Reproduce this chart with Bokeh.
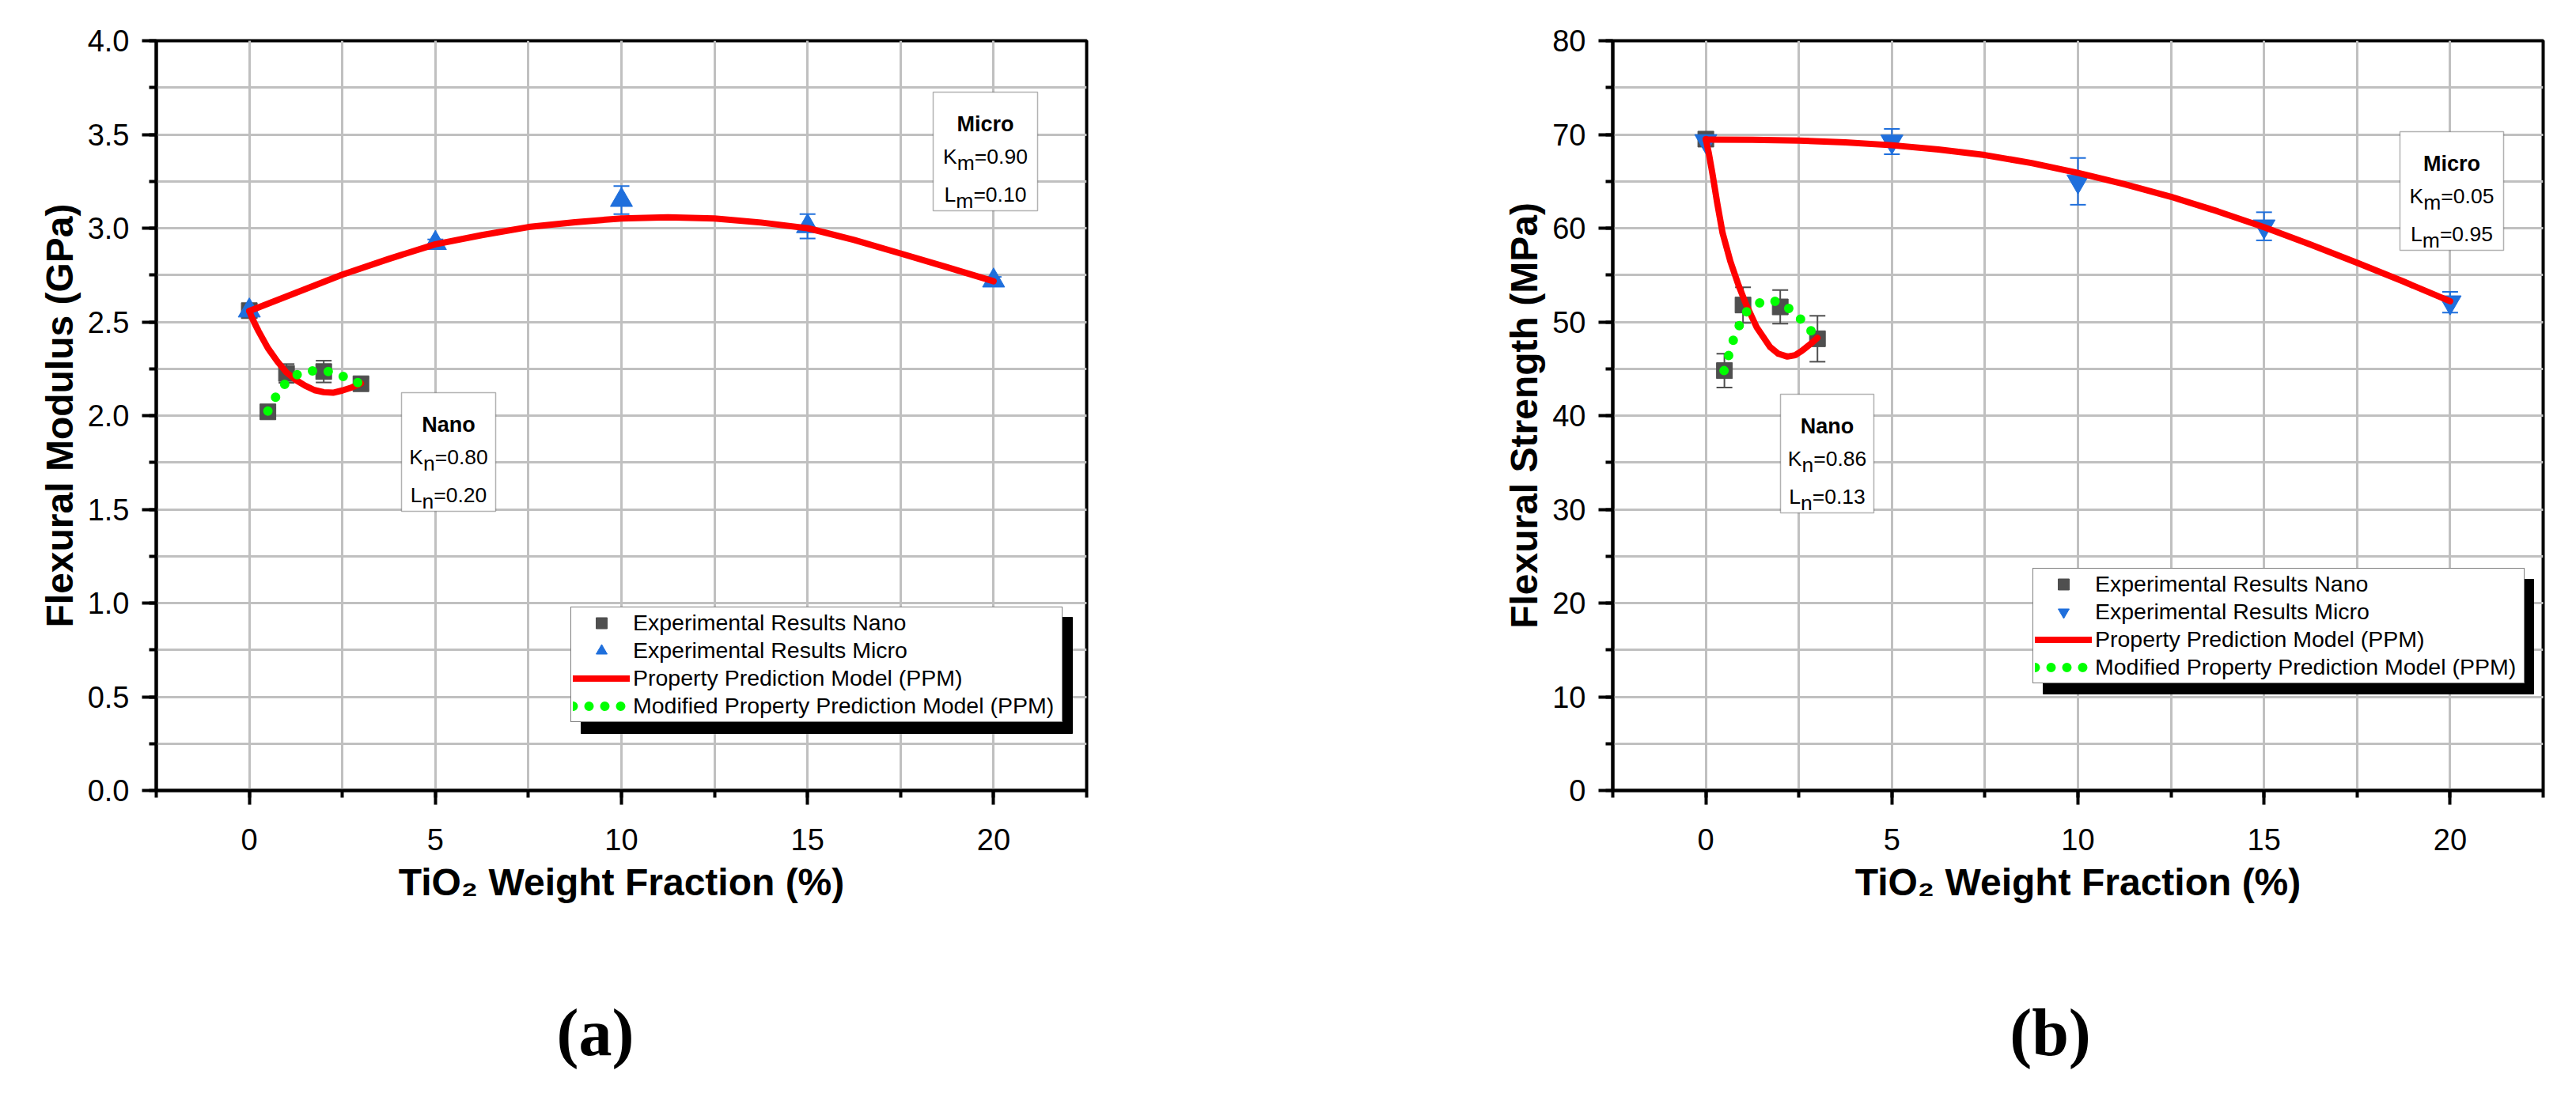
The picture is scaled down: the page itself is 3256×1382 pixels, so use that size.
from bokeh.plotting import figure
from bokeh.models import (Range1d, SingleIntervalTicker, NumeralTickFormatter, ColumnDataSource,
                          Whisker, TeeHead, Legend, LegendItem, BoxAnnotation, Label)
from bokeh.layouts import row, column
from bokeh.embed import file_html
from bokeh.resources import INLINE

# ---------------- data: (a) flexural modulus (GPa) ----------------
nano_x = [0, 0.5, 1, 2, 3]
micro_x = [0, 5, 10, 15, 20]

mod_nano = [2.56, 2.02, 2.225, 2.235, 2.17]
mod_nano_err = [0.01, 0.02, 0.05, 0.058, 0.03]
mod_micro = [2.56, 2.92, 3.15, 3.01, 2.72]
mod_micro_err = [0.02, 0.02, 0.075, 0.065, 0.02]

ppm_micro_x = [0, 1.25, 2.5, 3.75, 5, 6.25, 7.5, 8.75, 10, 11.25, 12.5, 13.75, 15, 16.25, 17.5, 18.75, 20]
mod_ppm_micro = [2.558, 2.655, 2.752, 2.836, 2.914, 2.963, 3.006, 3.032, 3.052, 3.058, 3.052,
                 3.03, 3.0, 2.937, 2.865, 2.792, 2.717]
mod_ppm_nano_x = [0, 0.1, 0.25, 0.5, 0.75, 1.0, 1.25, 1.5, 1.75, 2.0, 2.25, 2.5, 2.75, 3.0]
mod_ppm_nano = [2.557, 2.51, 2.45, 2.36, 2.29, 2.23, 2.19, 2.16, 2.136, 2.125, 2.122, 2.134, 2.15, 2.172]
mod_mppm_x = [0.5, 0.68, 0.91, 1.30, 1.74, 2.16, 2.58, 2.98]
mod_mppm = [2.024, 2.09, 2.16, 2.22, 2.24, 2.235, 2.205, 2.17]

# ---------------- data: (b) flexural strength (MPa) ----------------
str_nano = [69.5, 44.8, 51.8, 51.6, 48.2]
str_nano_err = [0.5, 1.8, 1.9, 1.8, 2.45]
str_micro = [69.3, 69.25, 65.0, 60.2, 52.1]
str_micro_err = [0.5, 1.35, 2.5, 1.5, 1.1]

str_ppm_micro = [69.45, 69.42, 69.34, 69.15, 68.85, 68.4, 67.8, 66.95, 65.9, 64.7, 63.35,
                 61.8, 60.1, 58.25, 56.3, 54.3, 52.2]
str_ppm_nano_x = [0, 0.08, 0.17, 0.31, 0.45, 0.66, 0.88, 1.09, 1.37, 1.73, 1.95, 2.19, 2.4, 2.58, 2.8, 3.0]
str_ppm_nano = [69.5, 68.0, 66.0, 62.6, 59.5, 56.45, 53.9, 51.8, 49.4, 47.3, 46.6, 46.3, 46.45, 46.9, 47.6, 48.3]
str_mppm_x = [0.49, 0.62, 0.75, 0.92, 1.1, 1.51, 1.92, 2.28, 2.6, 2.9]
str_mppm = [44.8, 46.5, 48.2, 49.8, 51.1, 52.2, 52.2, 51.3, 50.1, 48.7]

# text
legend_labels = ["Experimental Results Nano", "Experimental Results Micro",
                 "Property Prediction Model (PPM)", "Modified Property Prediction Model (PPM)"]
x_title = "TiO\u2082 Weight Fraction (%)"
panel_letters = ["(a)", "(b)"]

GRAY = "#4f4f4f"
BLUE = "#1f6fdc"
RED = "#ff0000"
GREEN = "#00ff00"
GRID = "#c0c0c0"
SANS = "Liberation Sans"

PAGE_W = 3248
MAIN_H = 1230
LETTER_H = 150
FRAME_W, FRAME_H = 1176, 948
FRAME_TOP = 51
X0, X1 = -2.5, 22.5


def build(cfg):
    ymax = cfg["ymax"]
    off = cfg["offset"]            # page x of the figure's left edge
    fl = cfg["frame_left"] - off   # figure-local frame left
    ft = FRAME_TOP
    fw = cfg["width"]
    p = figure(width=fw, height=MAIN_H, output_backend="svg", toolbar_location=None,
               x_range=Range1d(X0, X1), y_range=Range1d(0, ymax),
               min_border_left=fl, min_border_right=fw - fl - FRAME_W,
               min_border_top=ft, min_border_bottom=MAIN_H - ft - FRAME_H,
               background_fill_color="white", border_fill_color="white")
    p.outline_line_color = "black"
    p.outline_line_width = 4

    # reference page pixel -> data helpers (annotation placement only)
    def fx(px):
        return X0 + (px - off - fl) / FRAME_W * (X1 - X0)

    def fy(py):
        return ymax * (ft + FRAME_H - py) / FRAME_H

    p.xaxis.ticker = SingleIntervalTicker(interval=5, num_minor_ticks=2)
    p.yaxis.ticker = SingleIntervalTicker(interval=cfg["yint"], num_minor_ticks=2)
    if cfg["yfmt"]:
        p.yaxis.formatter = NumeralTickFormatter(format=cfg["yfmt"])
    for ax in (p.xaxis[0], p.yaxis[0]):
        ax.axis_line_width = 4
        ax.axis_line_color = "black"
        ax.major_tick_line_width = 4
        ax.minor_tick_line_width = 4
        ax.major_tick_line_color = "black"
        ax.minor_tick_line_color = "black"
        ax.major_tick_in = 0
        ax.major_tick_out = 18
        ax.minor_tick_in = 0
        ax.minor_tick_out = 9
        ax.major_label_text_font = SANS
        ax.major_label_text_font_size = "38px"
        ax.major_label_text_color = "black"
        ax.axis_label_text_font = SANS
        ax.axis_label_text_font_style = "bold"
        ax.axis_label_text_font_size = "48px"
        ax.axis_label_text_color = "black"
    p.xaxis.major_label_standoff = 30
    p.yaxis.major_label_standoff = 16
    p.xaxis.axis_label = x_title
    p.xaxis.axis_label_standoff = 11
    p.yaxis.axis_label = cfg["ytitle"]
    p.yaxis.axis_label_standoff = 6

    p.xgrid.grid_line_color = GRID
    p.xgrid.grid_line_width = cfg["xgrid_major_w"]
    p.xgrid.minor_grid_line_color = GRID
    p.xgrid.minor_grid_line_width = 3
    p.ygrid.grid_line_color = GRID
    p.ygrid.grid_line_width = 3
    p.ygrid.minor_grid_line_color = GRID
    p.ygrid.minor_grid_line_width = 3

    nano = ColumnDataSource(dict(x=nano_x, y=cfg["nano"],
                                 lo=[v - e for v, e in zip(cfg["nano"], cfg["nano_err"])],
                                 hi=[v + e for v, e in zip(cfg["nano"], cfg["nano_err"])]))
    micro = ColumnDataSource(dict(x=micro_x, y=cfg["micro"],
                                  lo=[v - e for v, e in zip(cfg["micro"], cfg["micro_err"])],
                                  hi=[v + e for v, e in zip(cfg["micro"], cfg["micro_err"])]))

    for src, col in ((nano, GRAY), (micro, BLUE)):
        w = Whisker(base="x", lower="lo", upper="hi", source=src, dimension="height",
                    line_color=col, line_width=2,
                    lower_head=TeeHead(size=20, line_color=col, line_width=2),
                    upper_head=TeeHead(size=20, line_color=col, line_width=2))
        p.add_layout(w)

    r_nano = p.scatter("x", "y", source=nano, marker="square", size=20,
                       fill_color=GRAY, line_color=GRAY)
    r_micro = p.scatter("x", "y", source=micro, marker=cfg["micro_marker"], size=28,
                        fill_color=BLUE, line_color=BLUE)
    r_red1 = p.line(ppm_micro_x, cfg["ppm_micro"], line_color=RED, line_width=8,
                    line_cap="round", line_join="round")
    r_red2 = p.line(cfg["ppm_nano_x"], cfg["ppm_nano"], line_color=RED, line_width=8,
                    line_cap="round", line_join="round")
    r_green = p.line(cfg["mppm_x"], cfg["mppm"], line_color=GREEN, line_width=12,
                     line_dash="0 20", line_cap="round", line_join="round")

    # legend shadow + legend
    sl, st, sr, sb = cfg["shadow"]
    p.add_layout(BoxAnnotation(left=fx(sl), right=fx(sr), top=fy(st), bottom=fy(sb),
                               fill_color="black", fill_alpha=1, line_color="black", line_alpha=1))
    lg_left, lg_bottom = cfg["legend_px"]
    legend = Legend(items=[LegendItem(label=legend_labels[0], renderers=[r_nano]),
                           LegendItem(label=legend_labels[1], renderers=[r_micro]),
                           LegendItem(label=legend_labels[2], renderers=[r_red1, r_red2]),
                           LegendItem(label=legend_labels[3], renderers=[r_green])],
                    location=(lg_left - off - fl, ft + FRAME_H - lg_bottom),
                    label_text_font=SANS, label_text_font_size="28.5px", label_text_color="black",
                    label_height=35, glyph_height=35, glyph_width=72, label_standoff=4,
                    label_width=540, padding=2, spacing=0, margin=0,
                    border_line_color="black", border_line_width=1.5,
                    background_fill_color="white", background_fill_alpha=1)
    p.add_layout(legend)

    # parameter boxes
    for (bl, bt, bw, title, sub, v1, v2) in cfg["boxes"]:
        p.add_layout(BoxAnnotation(left=fx(bl), right=fx(bl + bw), top=fy(bt), bottom=fy(bt + 150),
                                   fill_color="white", fill_alpha=1, line_color="black",
                                   line_width=1.5))
        p.add_layout(Label(x=fx(bl + bw / 2), y=fy(bt + 40), text=title, text_font=SANS,
                           text_font_style="bold", text_font_size="27px", text_color="black",
                           text_align="center", text_baseline="alphabetic"))
        fs = 26.5
        sub_w = (0.556 if sub == "n" else 0.833) * fs
        for letter, val, base, lw in (("K", v1, 81, 0.667 * fs), ("L", v2, 129, 0.556 * fs)):
            tot = lw + sub_w + 2.53 * fs
            x0 = bl + (bw - tot) / 2
            p.add_layout(Label(x=fx(x0), y=fy(bt + base), text=letter, text_font=SANS,
                               text_font_size=f"{fs}px", text_color="black",
                               text_align="left", text_baseline="alphabetic"))
            p.add_layout(Label(x=fx(x0 + lw), y=fy(bt + base + 8), text=sub, text_font=SANS,
                               text_font_size=f"{fs}px", text_color="black",
                               text_align="left", text_baseline="alphabetic"))
            p.add_layout(Label(x=fx(x0 + lw + sub_w), y=fy(bt + base), text="=" + val,
                               text_font=SANS, text_font_size=f"{fs}px", text_color="black",
                               text_align="left", text_baseline="alphabetic"))
    return p


cfg_a = dict(offset=0, width=1628, ymax=4, yint=0.5, yfmt="0.0", ytitle="Flexural Modulus (GPa)",
             frame_left=197, xgrid_major_w=3,
             nano=mod_nano, nano_err=mod_nano_err, micro=mod_micro, micro_err=mod_micro_err,
             micro_marker="triangle", ppm_micro=mod_ppm_micro,
             ppm_nano_x=mod_ppm_nano_x, ppm_nano=mod_ppm_nano, mppm_x=mod_mppm_x, mppm=mod_mppm,
             shadow=(734, 780, 1355, 927), legend_px=(721, 913),
             boxes=[(507, 496, 119, "Nano", "n", "0.80", "0.20"),
                    (1179, 116, 132, "Micro", "m", "0.90", "0.10")])

cfg_b = dict(offset=1628, width=1620, ymax=80, yint=10, yfmt=None, ytitle="Flexural Strength (MPa)",
             frame_left=2038, xgrid_major_w=1.5,
             nano=str_nano, nano_err=str_nano_err, micro=str_micro, micro_err=str_micro_err,
             micro_marker="inverted_triangle", ppm_micro=str_ppm_micro,
             ppm_nano_x=str_ppm_nano_x, ppm_nano=str_ppm_nano, mppm_x=str_mppm_x, mppm=str_mppm,
             shadow=(2582, 732, 3202, 877), legend_px=(2569, 864),
             boxes=[(2250, 498, 118, "Nano", "n", "0.86", "0.13"),
                    (3033, 166, 131, "Micro", "m", "0.05", "0.95")])

p1 = build(cfg_a)
p2 = build(cfg_b)

# full-width strip carrying the panel letters (ranges in page pixels)
q = figure(width=PAGE_W, height=LETTER_H, output_backend="svg", toolbar_location=None,
           x_range=Range1d(0, PAGE_W), y_range=Range1d(0, LETTER_H),
           x_axis_location=None, y_axis_location=None, min_border=0,
           background_fill_color="white", border_fill_color="white")
q.grid.visible = False
q.outline_line_color = None
for letter, cx in zip(panel_letters, (752, 2591)):
    q.add_layout(Label(x=cx, y=LETTER_H - (1305 - MAIN_H), text=letter,
                       text_font="Liberation Serif", text_font_style="bold",
                       text_font_size="84px", text_color="black",
                       text_align="center", text_baseline="middle"))

layout = column(row(p1, p2, spacing=0), q, spacing=0)
open("out.html", "w").write(file_html(layout, INLINE, "Flexural properties"))
